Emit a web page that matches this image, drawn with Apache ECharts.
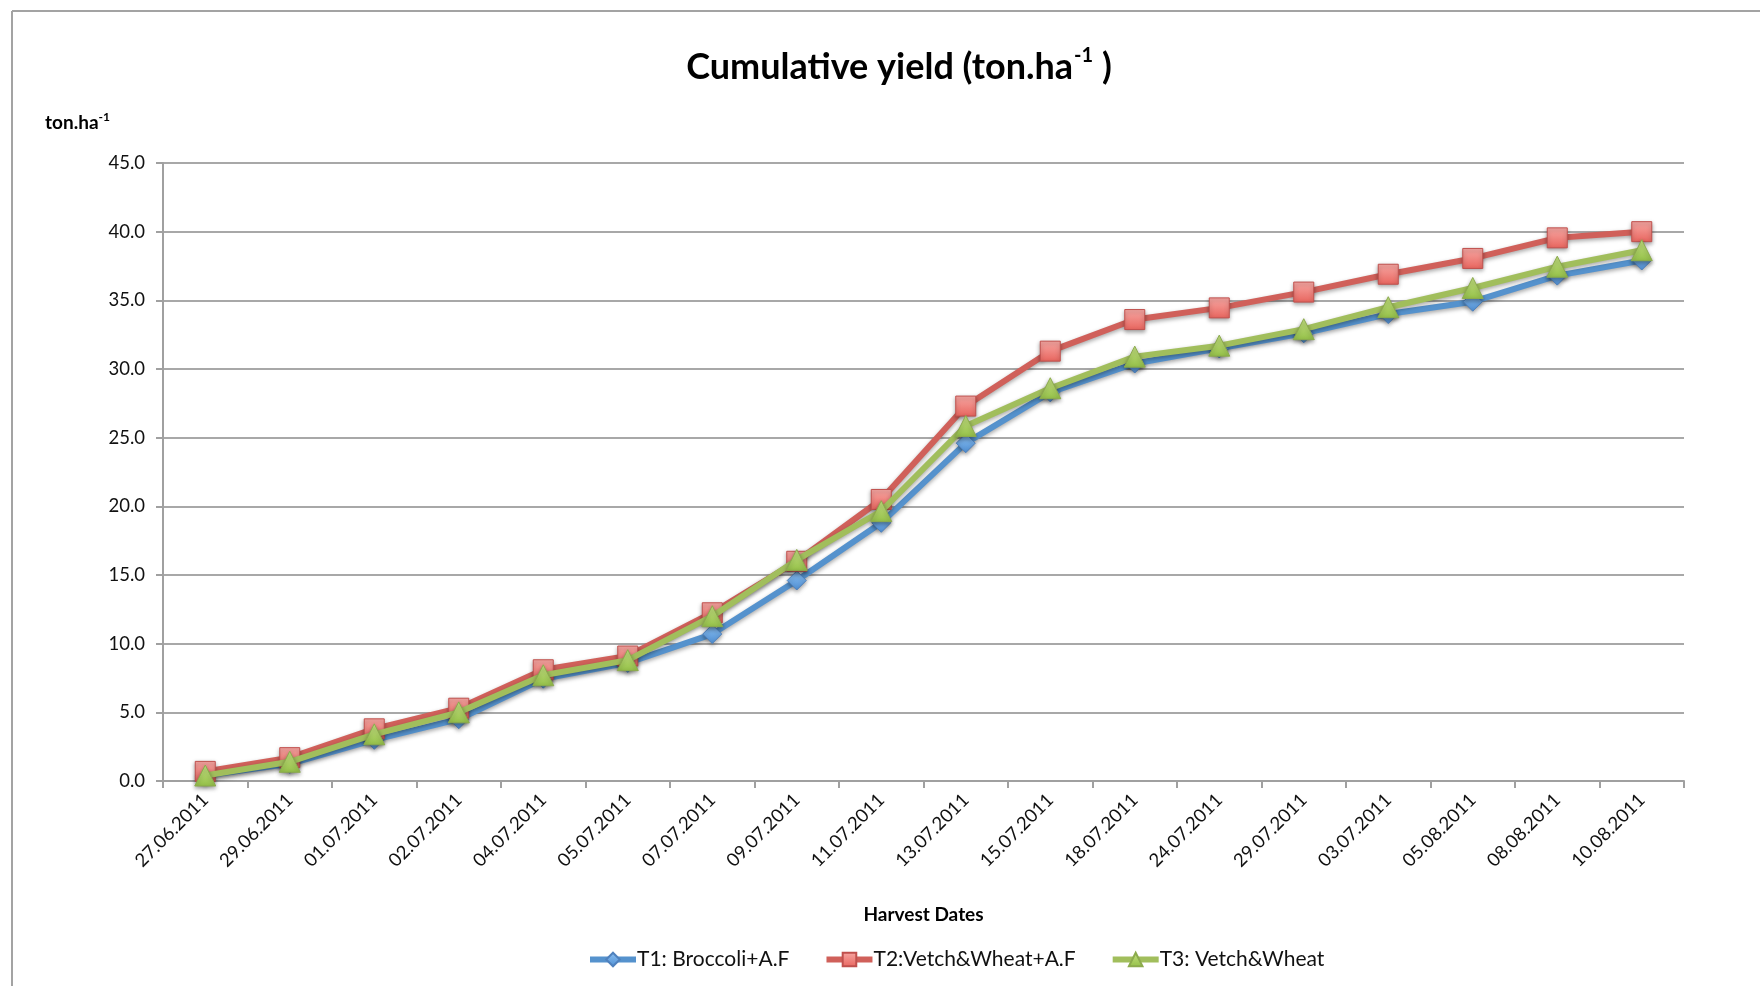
<!DOCTYPE html>
<html>
<head>
<meta charset="utf-8">
<script src="https://cdn.jsdelivr.net/npm/echarts@6/dist/echarts.min.js"></script>
<style>
html,body{margin:0;padding:0;background:#fff;}
#chart{width:1760px;height:986px;}
</style>
</head>
<body>
<div id="chart"></div>
<script>
const harvestDates = ['27.06.2011','29.06.2011','01.07.2011','02.07.2011','04.07.2011','05.07.2011','07.07.2011','09.07.2011','11.07.2011','13.07.2011','15.07.2011','18.07.2011','24.07.2011','29.07.2011','03.07.2011','05.08.2011','08.08.2011','10.08.2011'];
const t1Broccoli = [0.4, 1.25, 3.0, 4.5, 7.45, 8.6, 10.7, 14.6, 18.8, 24.6, 28.3, 30.4, 31.5, 32.6, 34.0, 34.9, 36.8, 37.9];
const t2VetchWheatAF = [0.7, 1.7, 3.8, 5.3, 8.1, 9.1, 12.25, 16.0, 20.5, 27.3, 31.3, 33.6, 34.45, 35.6, 36.9, 38.05, 39.55, 40.0];
const t3VetchWheat = [0.4, 1.4, 3.4, 5.0, 7.7, 8.8, 12.0, 16.1, 19.65, 25.85, 28.6, 30.9, 31.7, 32.9, 34.5, 35.9, 37.45, 38.65];
const seriesNames = ['T1: Broccoli+A.F', 'T2:Vetch&Wheat+A.F', 'T3: Vetch&Wheat'];

const FONT = 'Lato, "Open Sans", sans-serif';
const chart = echarts.init(document.getElementById('chart'));

function grad(top, bottom) {
  return new echarts.graphic.LinearGradient(0, 0, 0, 1, [
    {offset: 0, color: top}, {offset: 1, color: bottom}
  ]);
}
const shadow = {shadowBlur: 4, shadowColor: 'rgba(0,0,0,0.35)', shadowOffsetY: 2};

chart.setOption({
  backgroundColor: '#fff',
  animation: false,
  title: {
    text: '{t|Cumulative yield (ton.ha}{s|-1}{t| )}',
    left: 894, top: 41, textAlign: 'center',
    textStyle: {
      rich: {
        t: {fontFamily: FONT, fontWeight: 'bold', fontSize: 36, color: '#000', lineHeight: 42},
        s: {fontFamily: FONT, fontWeight: 'bold', fontSize: 20, color: '#000', verticalAlign: 'top', lineHeight: 42, padding: [0, 0, 16, 1]}
      }
    }
  },
  graphic: [
    {type: 'line', shape: {x1: 12, y1: 11, x2: 1760, y2: 11}, style: {stroke: '#a3a3a3', lineWidth: 2}},
    {type: 'line', shape: {x1: 12, y1: 11, x2: 12, y2: 986}, style: {stroke: '#a3a3a3', lineWidth: 2}}
  ],
  legend: {
    left: 582, top: 944,
    itemWidth: 46, itemHeight: 17, itemGap: 34,
    lineStyle: {width: 6},
    textStyle: {fontFamily: FONT, fontSize: 21, color: '#111', padding: [0, 0, 0, -4]},
    data: seriesNames
  },
  grid: {left: 163, top: 163, width: 1521, height: 618, containLabel: false},
  xAxis: {
    type: 'category',
    data: harvestDates,
    boundaryGap: true,
    name: 'Harvest Dates',
    nameLocation: 'middle',
    nameGap: 124,
    nameTextStyle: {fontFamily: FONT, fontWeight: 'bold', fontSize: 19, color: '#000'},
    axisLine: {lineStyle: {color: '#a0a0a0', width: 2}},
    axisTick: {show: true, alignWithLabel: false, length: 7, lineStyle: {color: '#a0a0a0', width: 2}},
    axisLabel: {rotate: 45, margin: 16, fontFamily: FONT, fontSize: 18.5, color: '#111', interval: 0},
    splitLine: {show: false}
  },
  yAxis: {
    type: 'value',
    min: 0, max: 45, interval: 5,
    name: '{a|ton.ha}{s|-1}',
    nameLocation: 'end',
    nameGap: 28,
    nameTextStyle: {
      align: 'right', padding: [0, 53, 0, 0],
      rich: {
        a: {fontFamily: FONT, fontWeight: 'bold', fontSize: 19, color: '#000', lineHeight: 24},
        s: {fontFamily: FONT, fontWeight: 'bold', fontSize: 12, color: '#000', verticalAlign: 'top', lineHeight: 24, padding: [0, 0, 9, 0]}
      }
    },
    axisLine: {show: true, lineStyle: {color: '#a0a0a0', width: 2}},
    axisTick: {show: true, length: 7, lineStyle: {color: '#a0a0a0', width: 2}},
    axisLabel: {margin: 18, fontFamily: FONT, fontSize: 18.5, color: '#111', formatter: v => v.toFixed(1)},
    splitLine: {show: true, lineStyle: {color: '#a8a8a8', width: 2}}
  },
  series: [
    {
      name: seriesNames[0], type: 'line', data: t1Broccoli,
      symbol: 'diamond', symbolSize: 19,
      lineStyle: Object.assign({color: '#5592cd', width: 6}, shadow),
      itemStyle: Object.assign({color: grad('#8cc0f2', '#4f8fd3'), borderColor: '#4f81bd', borderWidth: 1}, shadow),
      z: 2
    },
    {
      name: seriesNames[1], type: 'line', data: t2VetchWheatAF,
      symbol: 'rect', symbolSize: 20,
      lineStyle: Object.assign({color: '#d0605a', width: 6}, shadow),
      itemStyle: Object.assign({color: grad('#f7a8a4', '#e8655e'), borderColor: '#c0504d', borderWidth: 1}, shadow),
      z: 3
    },
    {
      name: seriesNames[2], type: 'line', data: t3VetchWheat,
      symbol: 'triangle', symbolSize: 21,
      lineStyle: Object.assign({color: '#a1be5c', width: 6}, shadow),
      itemStyle: Object.assign({color: grad('#c6e283', '#94c048'), borderColor: '#8cab4d', borderWidth: 1}, shadow),
      z: 4
    }
  ]
});
</script>
</body>
</html>
